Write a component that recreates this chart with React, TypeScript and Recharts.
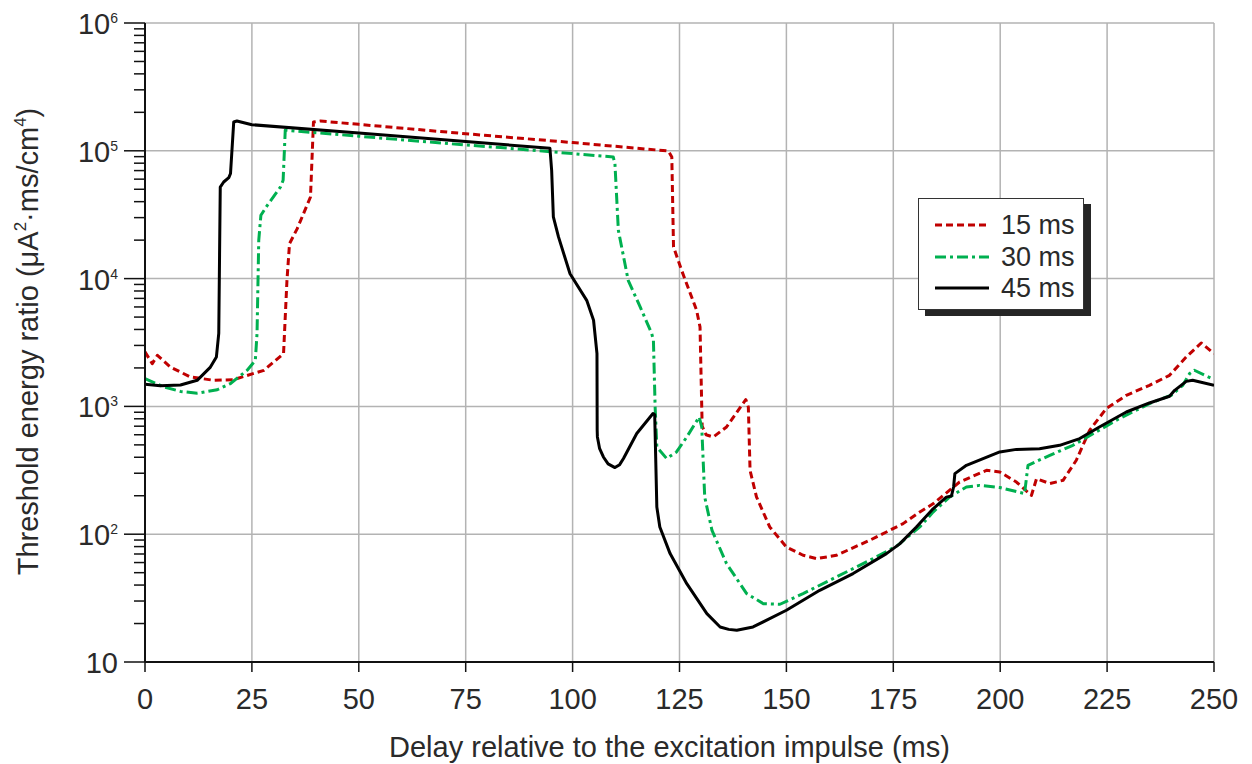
import React from 'react';
import { LineChart, Line, XAxis, YAxis, CartesianGrid, Legend, Label } from 'recharts';

// Threshold energy ratio vs. delay, one series per pulse duration
const delay15: number[] = [0, 1.7, 2.9, 5.96, 10.6, 16.1, 20.7, 27.8, 32.4, 33.2, 33.8, 35.6, 38.7, 39.4, 41, 50, 75, 100, 122.4, 123.2, 123.6, 125.5, 129, 129.8, 130.3, 131.2, 132.9, 136, 140.5, 141.1, 141.5, 143, 146.1, 150, 153.9, 157.1, 161.7, 169.5, 177.3, 181.2, 184.3, 190.5, 196.8, 199.9, 203.8, 207.3, 208.5, 211.6, 214.7, 217.8, 220.9, 224.8, 229.5, 234.9, 239.6, 243.5, 247, 250];
const ratio15: number[] = [2670, 2160, 2510, 2030, 1700, 1600, 1620, 1915, 2590, 9700, 18800, 24600, 43500, 168000, 171000, 161000, 136000, 116000, 99600, 89500, 17700, 11600, 5650, 4180, 700, 600, 576, 690, 1130, 990, 316, 196, 114, 79.4, 68.4, 64.4, 68.4, 89.6, 121, 149, 173, 256, 316, 307, 256, 201, 272, 249, 264, 379, 650, 961, 1222, 1462, 1750, 2437, 3135, 2590];

const delay30: number[] = [0, 4.4, 8.3, 12.2, 16.9, 20, 23.9, 25.8, 26.2, 26.6, 27.1, 28.6, 31.7, 32.3, 32.8, 50, 75, 83.1, 109.5, 109.9, 110.7, 113, 115.8, 118.5, 118.9, 119.3, 119.7, 122, 124.3, 126.7, 129.6, 130.2, 130.9, 132.6, 136, 140.7, 144.6, 148.5, 153.9, 161.7, 169.5, 175.8, 181.2, 184.3, 188.2, 192.1, 195.2, 199.9, 205.7, 206.5, 211.6, 217, 221.7, 227.1, 234.9, 240, 242.7, 244.3, 245.4, 250];
const ratio30: number[] = [1650, 1420, 1310, 1270, 1350, 1510, 1920, 2290, 3710, 19900, 31300, 37400, 52100, 58800, 145000, 130000, 111000, 106000, 89500, 79400, 23900, 9700, 6000, 3720, 3290, 990, 481, 391, 440, 576, 826, 690, 195, 107, 58.9, 34.3, 28.6, 28.3, 34.3, 46.3, 62.5, 80.8, 114, 149, 196, 234, 241, 232, 208, 346, 414, 496, 612, 778, 1052, 1222, 1462, 1806, 1918, 1622];

const delay45: number[] = [0, 3.6, 8.3, 12.2, 15.3, 16.7, 17.25, 17.6, 18.4, 19.6, 20, 20.75, 21.5, 25, 50, 75, 94.7, 95.1, 95.5, 96.7, 99.4, 103.3, 104.9, 105.7, 105.75, 105.8, 106.3, 107.2, 108.3, 109.9, 111, 111.9, 115, 118.8, 119.2, 119.7, 120.4, 122.8, 126.7, 131.4, 134.5, 136.5, 138.4, 142.2, 150, 157.8, 165.6, 173.4, 176.5, 180.4, 184.3, 187.4, 188.6, 189.1, 189.4, 192.1, 196, 199.9, 203.8, 209.2, 213.9, 218.6, 223.2, 229.5, 234.9, 239.6, 240.8, 243.5, 245, 250];
const ratio45: number[] = [1490, 1450, 1470, 1600, 2030, 2440, 3730, 52000, 57000, 61700, 66400, 168000, 171000, 160000, 138000, 118000, 104700, 70400, 30400, 21200, 10900, 6760, 4720, 2590, 650, 577, 470, 402, 355, 332, 350, 391, 613, 880, 860, 163, 114, 70.5, 41, 23.9, 18.8, 18.0, 17.7, 18.8, 25.4, 36.4, 49.2, 70.5, 84, 114, 158, 195, 199, 234, 298, 346, 391, 440, 461, 467, 496, 560, 690, 904, 1064, 1200, 1336, 1570, 1600, 1460];

const xTicks: number[] = [0, 25, 50, 75, 100, 125, 150, 175, 200, 225, 250];
const decades: number[] = [10, 100, 1000, 10000, 100000, 1000000];
const minorSteps: number[] = [2, 3, 4, 5, 6, 7, 8, 9];

const toPoints = (xs: number[], ys: number[]) => xs.map((x, i) => ({ x, y: ys[i] }));

const series = [
  { name: '15 ms', data: toPoints(delay15, ratio15), color: '#c00000', dash: '7 4' },
  { name: '30 ms', data: toPoints(delay30, ratio30), color: '#00b050', dash: '11 4 3 4' },
  { name: '45 ms', data: toPoints(delay45, ratio45), color: '#000000', dash: undefined as string | undefined },
];

const yTicks: number[] = [
  ...decades,
  ...decades.slice(0, -1).flatMap((d) => minorSteps.map((m) => d * m)),
].sort((a, b) => a - b);

const FONT = '"Liberation Sans", Arial, Helvetica, sans-serif';
const TEXT = '#2a2a2a';

const YTick = (props: any) => {
  const { x, y, payload } = props;
  const v: number = payload.value;
  const lg = Math.log10(v);
  const exp = Math.round(lg);
  const major = Math.abs(lg - exp) < 1e-6;
  const len = major ? 21 : 11;
  return (
    <g>
      <line x1={x - len} x2={x} y1={y} y2={y} stroke="#111" strokeWidth={1.5} />
      {major && (
        <text x={x - 27} y={y + 11} textAnchor="end" fontSize={29} fill={TEXT} fontFamily={FONT}>
          10
          {exp !== 1 && (
            <tspan dy={-11} fontSize={14}>
              {exp}
            </tspan>
          )}
        </text>
      )}
    </g>
  );
};

const XTitle = (props: any) => {
  const vb = props.viewBox;
  return (
    <text x={vb.x + vb.width / 2 - 10} y={vb.y + 95} textAnchor="middle" fontSize={29} fill={TEXT} fontFamily={FONT}>
      Delay relative to the excitation impulse (ms)
    </text>
  );
};

const YTitle = (props: any) => {
  const vb = props.viewBox;
  const tx = vb.x + 38;
  const ty = vb.y + vb.height / 2 - 1;
  return (
    <text x={tx} y={ty} textAnchor="middle" fontSize={29} fill={TEXT} fontFamily={FONT} transform={`rotate(-90, ${tx}, ${ty})`}>
      Threshold energy ratio (μA
      <tspan dy={-12} fontSize={17}>2</tspan>
      <tspan dy={12}>·ms/cm</tspan>
      <tspan dy={-12} fontSize={17}>4</tspan>
      <tspan dy={12}>)</tspan>
    </text>
  );
};

const LegendBox = () => (
  <div
    style={{
      width: 166,
      height: 112,
      boxSizing: 'border-box',
      border: '1.5px solid #333',
      background: '#fff',
      boxShadow: '7px 6px 0 #262626',
      position: 'relative',
      fontFamily: FONT,
    }}
  >
    {series.map((s, i) => (
      <div
        key={s.name}
        style={{ position: 'absolute', left: 0, top: 11 + i * 31.5, height: 30, display: 'flex', alignItems: 'center' }}
      >
        <svg width={70} height={30} style={{ display: 'block' }}>
          <line x1={16} x2={70} y1={15} y2={15} stroke={s.color} strokeWidth={3} strokeDasharray={s.dash} />
        </svg>
        <span style={{ marginLeft: 12, fontSize: 27, color: TEXT, lineHeight: '30px' }}>{s.name}</span>
      </div>
    ))}
  </div>
);

export default function App() {
  return (
    <div style={{ position: 'absolute', left: 0, top: 0, width: 1252, height: 764, background: '#fff' }}>
      <LineChart width={1252} height={764} margin={{ top: 23, right: 38, bottom: 0, left: 0 }} style={{ fontFamily: FONT }}>
        <CartesianGrid stroke="#b3b3b3" strokeWidth={1.5} horizontalValues={decades} verticalValues={xTicks} />
        <XAxis
          type="number"
          dataKey="x"
          domain={[0, 250]}
          ticks={xTicks}
          allowDataOverflow
          height={102}
          tickSize={10}
          tickMargin={16}
          tickLine={{ stroke: '#111', strokeWidth: 1.5 }}
          axisLine={{ stroke: '#111', strokeWidth: 2 }}
          tick={{ fill: TEXT, fontSize: 29, fontFamily: FONT }}
          interval={0}
        >
          <Label content={<XTitle />} />
        </XAxis>
        <YAxis
          type="number"
          scale="log"
          domain={[10, 1000000]}
          ticks={yTicks}
          allowDataOverflow
          width={145}
          tickSize={0}
          tickMargin={0}
          tickLine={false}
          axisLine={{ stroke: '#111', strokeWidth: 2 }}
          tick={<YTick />}
          interval={0}
        >
          <Label content={<YTitle />} />
        </YAxis>
        <Legend
          verticalAlign="middle"
          align="center"
          content={<LegendBox />}
          wrapperStyle={{ left: 918, top: 198, width: 166, height: 112 }}
        />
        {series.map((s) => (
          <Line
            key={s.name}
            data={s.data}
            dataKey="y"
            name={s.name}
            type="linear"
            stroke={s.color}
            strokeWidth={3}
            strokeDasharray={s.dash}
            strokeLinejoin="round"
            dot={false}
            activeDot={false}
            isAnimationActive={false}
          />
        ))}
      </LineChart>
    </div>
  );
}
